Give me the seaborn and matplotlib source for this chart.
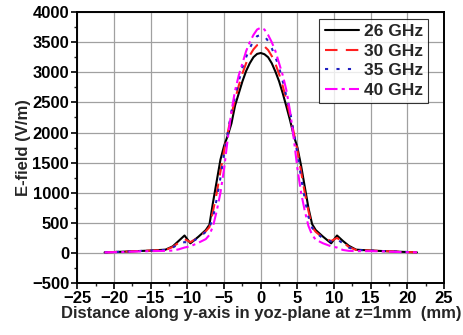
import numpy as np
import pandas as pd
import matplotlib
matplotlib.use("Agg")
import matplotlib.pyplot as plt
import seaborn as sns
from matplotlib.ticker import MultipleLocator

x_mm = [-21.3, -19, -17, -15, -13, -12, -11.2, -10.4, -9.6, -8.5, -7.5, -7, -6.5, -6, -5.5, -5, -4.5, -4,
        -3.5, -3, -2.5, -2, -1.5, -1, -0.5, 0, 0.5, 1, 1.5, 2, 2.5, 3, 3.5, 4, 4.5, 5, 5.5, 6, 6.5, 7,
        7.5, 8.5, 9.6, 10.4, 11.2, 12, 13, 15, 17, 19, 21.3]

e_26 = [10, 20, 30, 40, 55, 110, 200, 290, 160, 270, 380, 470, 850, 1200, 1550, 1780, 1950, 2150,
        2450, 2650, 2850, 3020, 3150, 3250, 3305, 3320, 3300, 3250, 3150, 3010, 2850, 2650, 2430, 2200,
        1950, 1750, 1450, 1100, 750, 480, 380, 270, 160, 290, 200, 120, 55, 40, 30, 20, 10]
e_30 = [10, 20, 30, 40, 50, 100, 170, 230, 180, 260, 360, 430, 700, 1000, 1350, 1700, 2000, 2300,
        2550, 2780, 2980, 3150, 3280, 3380, 3450, 3470, 3430, 3370, 3270, 3140, 2970, 2770, 2540, 2280,
        2000, 1700, 1350, 1000, 700, 430, 350, 250, 200, 250, 180, 100, 50, 40, 30, 20, 10]
e_35 = [10, 20, 30, 40, 50, 90, 150, 180, 170, 250, 350, 420, 600, 900, 1250, 1650, 2000, 2350,
        2600, 2850, 3080, 3250, 3400, 3520, 3600, 3620, 3600, 3520, 3400, 3250, 3080, 2850, 2600, 2350,
        2000, 1650, 1250, 900, 600, 420, 340, 240, 190, 230, 160, 90, 50, 40, 30, 20, 10]
e_40 = [10, 15, 25, 30, 35, 40, 60, 90, 110, 170, 230, 300, 450, 700, 1000, 1400, 1900, 2350,
        2700, 2950, 3150, 3350, 3500, 3620, 3710, 3740, 3710, 3620, 3500, 3350, 3150, 2950, 2700, 2350,
        1900, 1400, 1000, 700, 450, 300, 220, 160, 110, 90, 50, 35, 30, 30, 25, 15, 10]

labels = ["26 GHz", "30 GHz", "35 GHz", "40 GHz"]
series = [e_26, e_30, e_35, e_40]
colors = ["black", "#ff2020", "#2020c0", "#ff00ff"]
styles = ["-", (0, (6, 4)), (0, (1.5, 4)), (0, (6, 2, 1.5, 2))]

sns.set_theme(style="white")
plt.rcParams['font.family'] = ['Liberation Sans', 'DejaVu Sans']
plt.rcParams['font.weight'] = 'bold'

fig = plt.figure(figsize=(4.64, 3.35), dpi=100)
ax = fig.add_axes([0.167, 0.155, 0.79, 0.809])

for lab, vals, c, ls in zip(labels, series, colors, styles):
    df = pd.DataFrame({"x": x_mm, "y": vals})
    sns.lineplot(data=df, x="x", y="y", ax=ax, color=c, linestyle=ls, lw=1.5,
                 label=lab, sort=False)

ax.set_xlim(-25, 25)
ax.set_ylim(-500, 4000)
ax.xaxis.set_major_locator(MultipleLocator(5))
ax.xaxis.set_minor_locator(MultipleLocator(2.5))
ax.yaxis.set_major_locator(MultipleLocator(500))
ax.yaxis.set_minor_locator(MultipleLocator(250))
ax.grid(True, which="major", color="#a0a0a0", lw=0.9)
ax.tick_params(axis="both", which="major", direction="out", length=4, width=1.2,
               labelsize=12, bottom=True, left=True, pad=2, colors="black")
ax.tick_params(axis="both", which="minor", direction="out", length=2.5, width=1.0,
               bottom=True, left=True)
for lbl in ax.get_xticklabels() + ax.get_yticklabels():
    lbl.set_fontweight("bold")
for s in ax.spines.values():
    s.set_color("black")
    s.set_linewidth(1.4)

ax.set_xlabel("Distance along y-axis in yoz-plane at z=1mm  (mm)", fontsize=12, fontweight="bold", labelpad=0)
ax.set_ylabel("E-field (V/m)", fontsize=12, fontweight="bold", labelpad=1)

leg = ax.legend(loc="upper right", bbox_to_anchor=(0.956, 0.974), fontsize=12.5, frameon=True,
                fancybox=False, edgecolor="black", handlelength=2.0, borderpad=0.3,
                labelspacing=0.25, handletextpad=0.25, borderaxespad=0)
leg.get_frame().set_linewidth(0.8)
for t in leg.get_texts():
    t.set_fontweight("bold")

fig.savefig("out.png", dpi=100)
